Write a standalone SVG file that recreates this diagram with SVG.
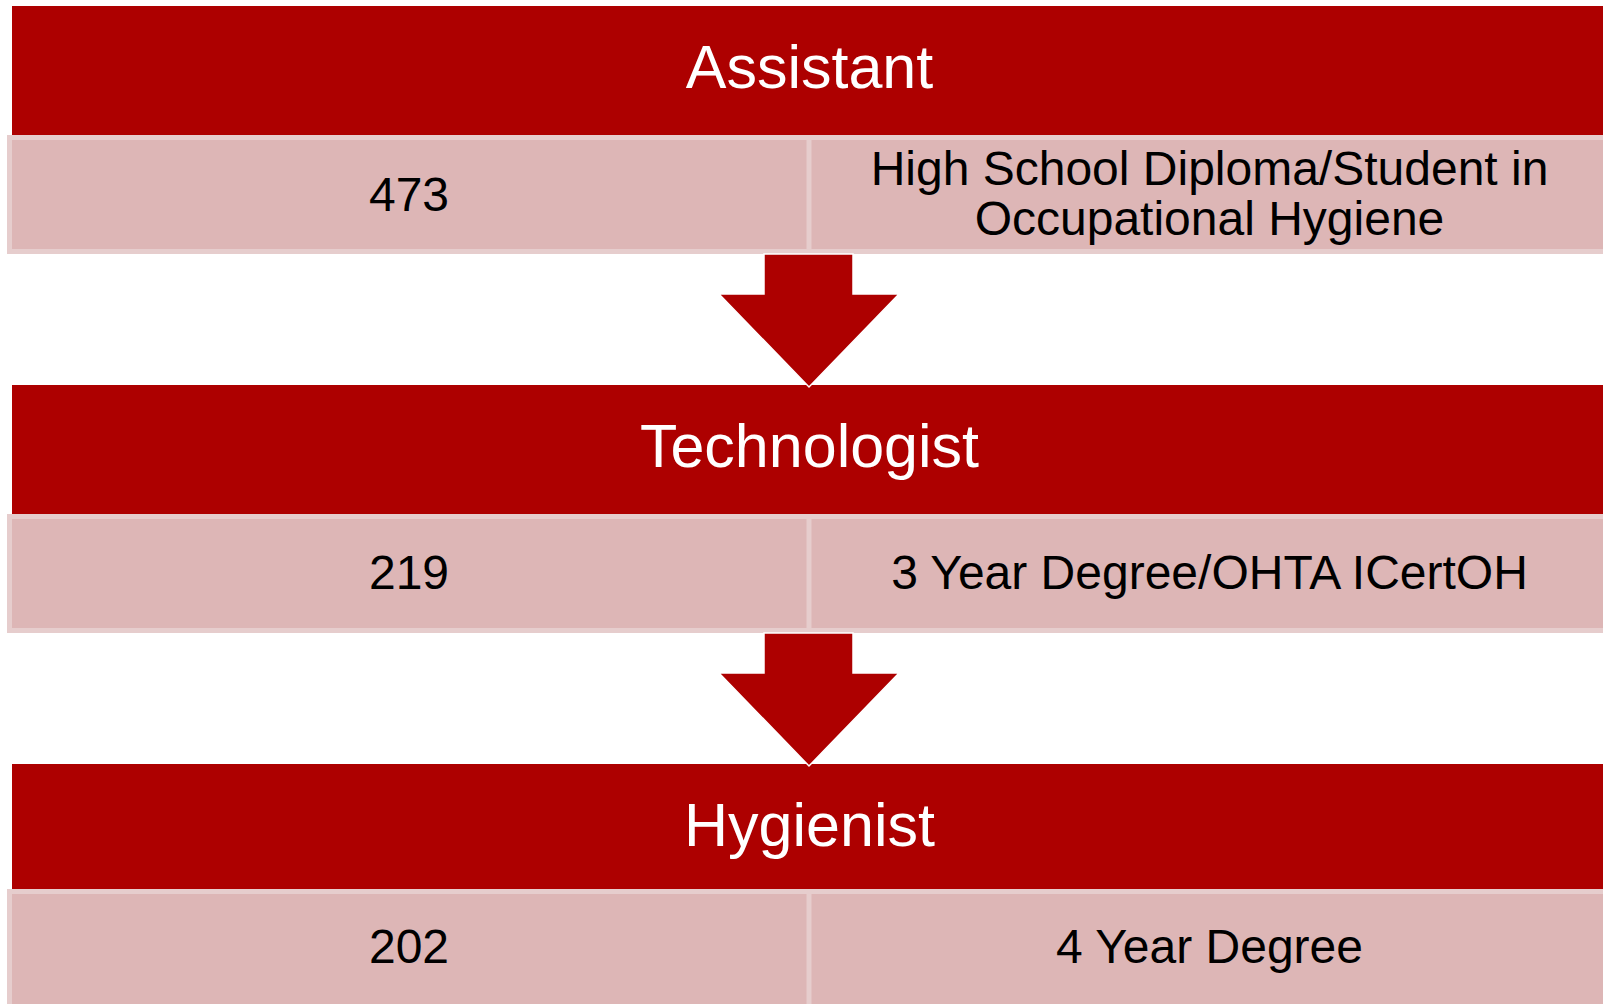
<svg xmlns="http://www.w3.org/2000/svg" width="1603" height="1004" viewBox="0 0 1603 1004">
<style>
.hdr{fill:#ad0000;}
.cell{fill:#ddb6b6;stroke:#e6cdcd;stroke-width:5;}
.div{stroke:#e6cdcd;stroke-width:5;}
.arrow{fill:#ad0000;stroke:#ffffff;stroke-width:1.5;stroke-linejoin:miter;}
.title{font-family:"Liberation Sans",Arial,sans-serif;font-size:61px;fill:#ffffff;text-anchor:middle;}
.txt{font-family:"Liberation Sans",Arial,sans-serif;font-size:48px;fill:#000000;text-anchor:middle;}
</style>
<rect width="1603" height="1004" fill="#ffffff"/>
<g id="assistant">
<rect class="hdr" x="12" y="6" width="1600" height="129"/>
<text class="title" x="809.5" y="88">Assistant</text>
<rect class="cell" x="9.5" y="137.5" width="1600" height="114"/>
<line class="div" x1="809" y1="137" x2="809" y2="252"/>
<text class="txt" x="409" y="211">473</text>
<text class="txt" x="1209.5" y="185">High School Diploma/Student in</text>
<text class="txt" x="1209.5" y="235">Occupational Hygiene</text>
</g>
<g id="technologist">
<rect class="hdr" x="12" y="385" width="1600" height="129"/>
<text class="title" x="809.5" y="467">Technologist</text>
<rect class="cell" x="9.5" y="516.5" width="1600" height="114"/>
<line class="div" x1="809" y1="516" x2="809" y2="631"/>
<text class="txt" x="409" y="589">219</text>
<text class="txt" x="1209.5" y="589">3 Year Degree/OHTA ICertOH</text>
</g>
<g id="hygienist">
<rect class="hdr" x="12" y="764" width="1600" height="126"/>
<text class="title" x="809.5" y="846">Hygienist</text>
<rect class="cell" x="9.5" y="891.5" width="1600" height="130"/>
<line class="div" x1="809" y1="891" x2="809" y2="1010"/>
<text class="txt" x="409" y="963">202</text>
<text class="txt" x="1209.5" y="963">4 Year Degree</text>
</g>
<g id="connectors">
<path class="arrow" d="M764,254 H853 V294 H899 L809,387 L719,294 H764 Z"/>
<path class="arrow" d="M764,633 H853 V673 H899 L809,766 L719,673 H764 Z"/>
</g>
</svg>
